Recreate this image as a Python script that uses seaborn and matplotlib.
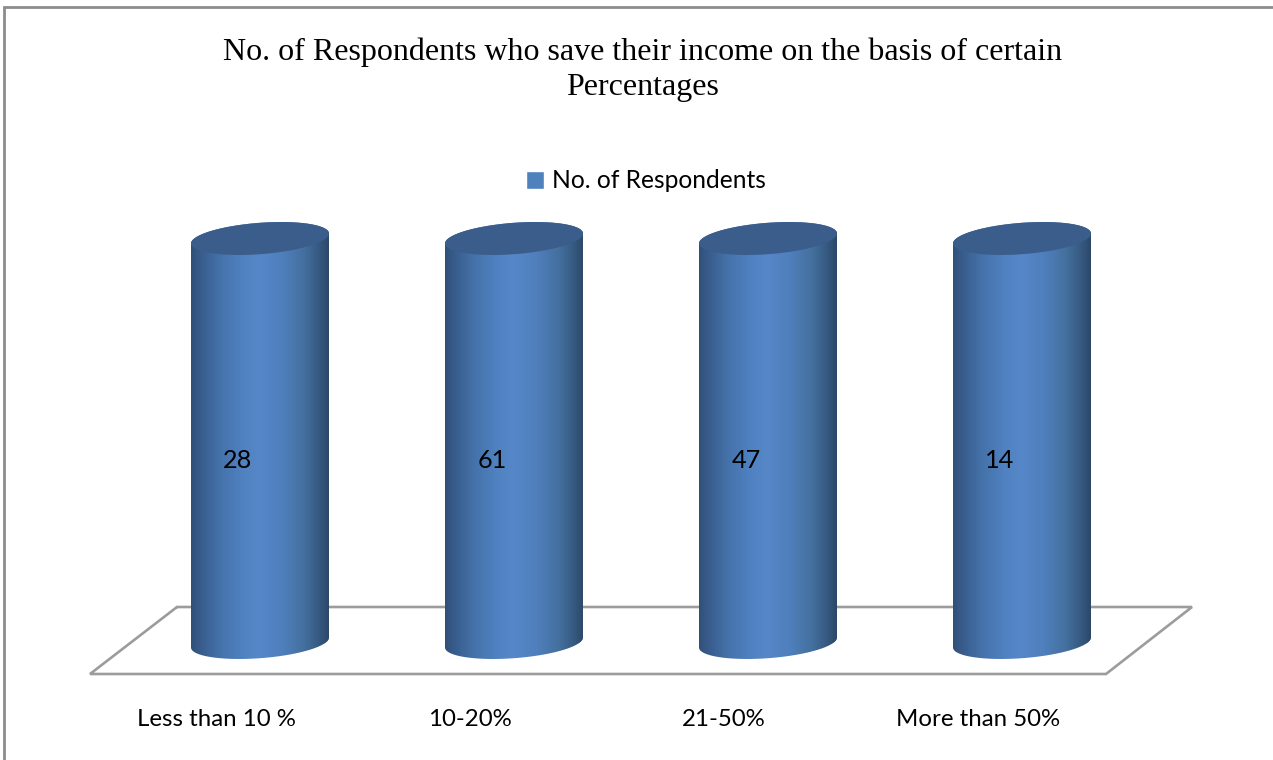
import numpy as np
import pandas as pd
import matplotlib
matplotlib.use("Agg")
import matplotlib.pyplot as plt
from matplotlib.path import Path
from matplotlib.patches import PathPatch
from matplotlib.colors import LinearSegmentedColormap
import seaborn as sns

# Survey results: each category is a single 100% stacked column
categories = ["Less than 10 %", "10-20%", "21-50%", "More than 50%"]
respondents = [28, 61, 47, 14]
series_name = "No. of Respondents"
title_lines = ["No. of Respondents who save their income on the basis of certain", "Percentages"]

W, H = 1273, 760
sns.set_theme(style="white")
plt.rcParams["font.family"] = ["Lato", "DejaVu Sans"]

fig = plt.figure(figsize=(W / 100, H / 100), dpi=100, facecolor="white")

# Pixel-space layer for the chart frame, floor and title
canvas = fig.add_axes([0, 0, 1, 1], zorder=1)
canvas.set_xlim(0, W)
canvas.set_ylim(H, 0)
canvas.axis("off")

# Data layer: one category unit = 254 px, share 0..1 = 404 px
X0, DX = 260.0, 254.0
Y0, DY = 642.5, 404.0
ax = fig.add_axes([0, 0, 1, 1], zorder=2)
ax.patch.set_alpha(0)

frame_color = "#8c8c8c"
canvas.plot([3.5, 3.5, W], [H, 7, 7], color=frame_color, lw=2.0, solid_joinstyle="miter")
canvas.plot([177, 90, 1106, 1192, 177], [607, 674, 674, 607, 607],
            color="#9c9c9c", lw=1.9, solid_joinstyle="miter")

for y_line, line in zip([60, 95], title_lines):
    canvas.text(643, y_line, line, ha="center", va="baseline", color="black",
                fontsize=23.0, family="Liberation Serif")

df = pd.DataFrame({"category": categories, "respondents": respondents})
df["share"] = df["respondents"] / df.groupby("category")["respondents"].transform("sum")

bar_color = "#4f81bd"
sns.barplot(data=df, x="category", y="share", color=bar_color, saturation=1,
            width=138 / DX, label=series_name, ax=ax, zorder=2)

side_shade = LinearSegmentedColormap.from_list(
    "cylinder_side",
    [(0.00, "#2f5078"), (0.06, "#375b8a"), (0.20, "#4471a8"), (0.36, "#4f80bf"),
     (0.49, "#5687c8"), (0.66, "#4f7fbc"), (0.82, "#44709f"), (0.93, "#365980"), (1.00, "#2c4868")],
)
gradient = np.linspace(0, 1, 256).reshape(1, -1)

# Ellipse shape of the column ends, tilted by the 3D view
b_semi = 15.7 / DY
k_tilt = 5.0 / DY


def end_curve(cx, half, cy, t):
    return cx + half * np.cos(t), cy + k_tilt * np.cos(t) + b_semi * np.sin(t)


for bar, value in zip(ax.patches, respondents):
    x_left, width, top = bar.get_x(), bar.get_width(), bar.get_height()
    cx, half = x_left + width / 2, width / 2

    tb = np.linspace(np.pi, 2 * np.pi, 80)
    bx, by = end_curve(cx, half, 0.0, tb)
    tt = np.linspace(0, np.pi, 80)
    ux, uy = end_curve(cx, half, top, tt)
    verts = np.column_stack([np.r_[bx, ux], np.r_[by, uy]])
    body = Path(np.vstack([verts, verts[0]]), closed=True)

    bar.set_clip_path(body, ax.transData)
    im = ax.imshow(gradient, cmap=side_shade, aspect="auto", zorder=3,
                   extent=(x_left, x_left + width, -0.1, top + 0.1), interpolation="bilinear")
    im.set_clip_path(body, ax.transData)

    ta = np.linspace(0, 2 * np.pi, 160)
    cap_x, cap_y = end_curve(cx, half, top, ta)
    ax.add_patch(PathPatch(Path(np.column_stack([cap_x, cap_y]), closed=False),
                           facecolor="#3a5d8b", edgecolor="none", zorder=4))

    # Value label sits left of the column axis, as the 3D projection places it
    ax.annotate(f"{value}", (cx, 0.45), xytext=(-22 * 0.72, 0), textcoords="offset points",
                ha="center", va="center", color="black", fontsize=18.2, zorder=5)

# Category labels are offset from the columns by the floor's perspective
ax.set_xticks(range(len(categories)))
ax.set_xticklabels([])
ax.tick_params(length=0)
for i, name in enumerate(categories):
    ax.annotate(name, (i, 0), xytext=(-44 * 0.72, -(719 - Y0) * 0.72), textcoords="offset points",
                ha="center", va="center", color="black", fontsize=17.3, annotation_clip=False)

ax.set_xlim(-X0 / DX, (W - X0) / DX)
ax.set_ylim((Y0 - H) / DY, Y0 / DY)
ax.axis("off")

handles, labels = ax.get_legend_handles_labels()
ax.legend(handles, labels, loc="center", bbox_to_anchor=(646 / W, 1 - 181 / H), frameon=False,
          fontsize=17.7, handlelength=0.72, handleheight=0.72, handletextpad=0.35,
          labelcolor="black")

fig.savefig("out.png", dpi=100, facecolor="white")
